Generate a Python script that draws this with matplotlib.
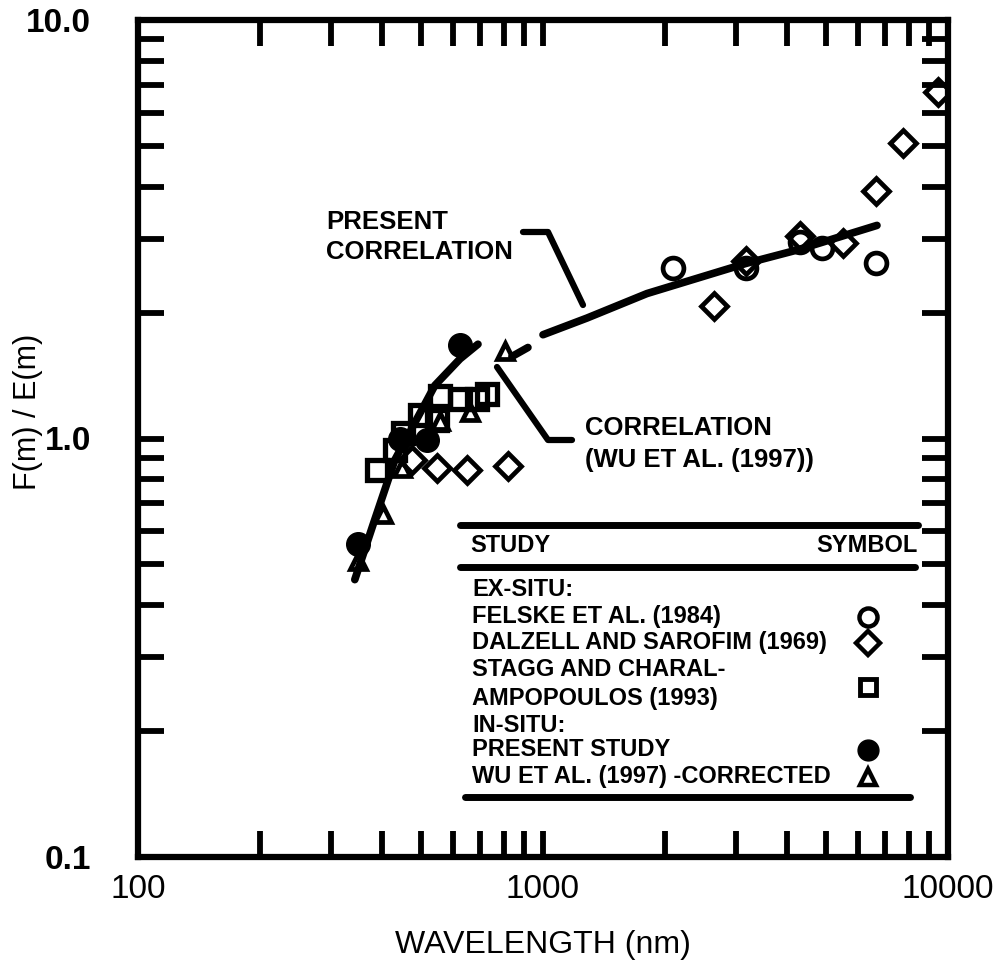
import numpy as np
import matplotlib
matplotlib.use("Agg")
import matplotlib.pyplot as plt
from matplotlib.lines import Line2D
from matplotlib.ticker import LogLocator, NullFormatter

plt.rcParams['font.family'] = ['Liberation Sans', 'DejaVu Sans']

# dane
felske_x = [2100, 3170, 4320, 4890, 6650]
felske_y = [2.56, 2.55, 2.94, 2.85, 2.62]

dalzell_x = [475, 547, 649, 820, 2640, 3170, 4320, 5520, 6650, 7750, 9440]
dalzell_y = [0.89, 0.85, 0.84, 0.86, 2.07, 2.66, 3.05, 2.93, 3.90, 5.08, 6.74]

stagg_x = [389, 430, 452, 497, 547, 557, 624, 689, 728]
stagg_y = [0.84, 0.94, 1.03, 1.14, 1.11, 1.26, 1.24, 1.24, 1.28]

present_x = [349, 444, 517, 624]
present_y = [0.56, 1.00, 0.99, 1.67]

wu_x = [349, 403, 448, 557, 660, 805]
wu_y = [0.51, 0.66, 0.85, 1.10, 1.16, 1.62]

# korelacje (NaN = przerwa w linii)
visible_corr_x = [343, 380, 431, 541, 624, 691]
visible_corr_y = [0.46, 0.62, 0.89, 1.34, 1.55, 1.68]
present_corr_x = [838, 918, np.nan, 1000, 1284, 1806, 2630, 3170, 4236, 6678]
present_corr_y = [1.57, 1.65, np.nan, 1.77, 1.94, 2.22, 2.48, 2.62, 2.82, 3.23]

xtick_vals = [100, 1000, 10000]
xtick_labels = ['100', '1000', '10000']
ytick_vals = [0.1, 1.0, 10.0]
ytick_labels = ['0.1', '1.0', '10.0']

legend_rows = ['EX-SITU:', 'FELSKE ET AL. (1984)', 'DALZELL AND SAROFIM (1969)',
               'STAGG AND CHARAL-', 'AMPOPOULOS (1993)', 'IN-SITU:',
               'PRESENT STUDY', 'WU ET AL. (1997) -CORRECTED']

W, H = 1007, 974
fig = plt.figure(figsize=(W / 100, H / 100), dpi=100)
ax = fig.add_axes([138 / W, 1 - 857 / H, (948 - 138) / W, (857 - 20) / H])


def fx(px):
    return px / W


def fy(py):
    return 1 - py / H


ax.set_xscale('log')
ax.set_yscale('log')
ax.set_xlim(100, 10000)
ax.set_ylim(0.1, 10)

ax.plot(visible_corr_x, visible_corr_y, color='black', lw=5.5, solid_capstyle='round')
ax.plot(present_corr_x, present_corr_y, color='black', lw=5.5, solid_capstyle='round')

ax.plot(felske_x, felske_y, 'o', ms=15, mfc='none', mec='black', mew=3.4)
ax.plot(dalzell_x, dalzell_y, 'D', ms=13, mfc='none', mec='black', mew=3.4)
ax.plot(stagg_x, stagg_y, 's', ms=14, mfc='none', mec='black', mew=3.8)
ax.plot(present_x, present_y, 'o', ms=17, color='black')
ax.plot(wu_x, wu_y, '^', ms=12, mfc='none', mec='black', mew=3.4)

# osie
ax.set_xticks(xtick_vals, labels=xtick_labels, fontsize=24)
ax.set_yticks(ytick_vals, labels=ytick_labels, fontsize=24, fontweight='bold')
ax.xaxis.set_minor_locator(LogLocator(base=10, subs=range(2, 10)))
ax.yaxis.set_minor_locator(LogLocator(base=10, subs=range(2, 10)))
ax.xaxis.set_minor_formatter(NullFormatter())
ax.yaxis.set_minor_formatter(NullFormatter())
ax.tick_params(which='both', direction='in', top=True, right=True, length=19, width=4.2)
ax.tick_params(axis='x', which='major', pad=12)
ax.tick_params(axis='y', which='major', pad=34)
for s in ax.spines.values():
    s.set_linewidth(4.5)

fig.text(fx(543), fy(945), 'WAVELENGTH (nm)', fontsize=23, ha='center', va='center')
fig.text(fx(28), fy(412), 'F(m) / E(m)', fontsize=22, rotation=90, ha='center', va='center')

# opisy korelacji
bold = dict(fontsize=18.5, fontweight='bold', va='center')
fig.text(fx(326), fy(222), 'PRESENT', **bold)
fig.text(fx(326), fy(252), 'CORRELATION', **bold)
fig.add_artist(Line2D([fx(523), fx(548), fx(583)], [fy(232), fy(232), fy(305)],
                      color='black', lw=4.5, solid_capstyle='round', solid_joinstyle='round'))
fig.text(fx(585), fy(428), 'CORRELATION', **bold)
fig.text(fx(585), fy(460), '(WU ET AL. (1997))', **bold)
fig.add_artist(Line2D([fx(497), fx(548), fx(572)], [fy(367), fy(440), fy(440)],
                      color='black', lw=4.5, solid_capstyle='round', solid_joinstyle='round'))

# tabela legendy
for y0, x0, x1 in [(525, 460, 918), (567, 460, 915), (797, 465, 910)]:
    fig.add_artist(Line2D([fx(x0), fx(x1)], [fy(y0), fy(y0)], color='black', lw=5,
                          solid_capstyle='round'))
leg = dict(fontsize=17, fontweight='bold', va='center')
fig.text(fx(470), fy(545), 'STUDY', **leg)
fig.text(fx(918), fy(545), 'SYMBOL', ha='right', **leg)
row_y = [590, 617, 643, 670, 698, 725, 750, 777]
for txt, yy in zip(legend_rows, row_y):
    fig.text(fx(472), fy(yy), txt, **leg)

sym = [('o', 617, dict(ms=13, mfc='none', mew=3.2)),
       ('D', 643, dict(ms=12, mfc='none', mew=3.2)),
       ('s', 687, dict(ms=12, mfc='none', mew=3.5)),
       ('o', 750, dict(ms=15, mfc='black')),
       ('^', 777, dict(ms=11, mfc='none', mew=3.2))]
for m, yy, kw in sym:
    fig.add_artist(Line2D([fx(868)], [fy(yy)], marker=m, color='black', ls='none', **kw))

fig.savefig('out.png', dpi=100)
